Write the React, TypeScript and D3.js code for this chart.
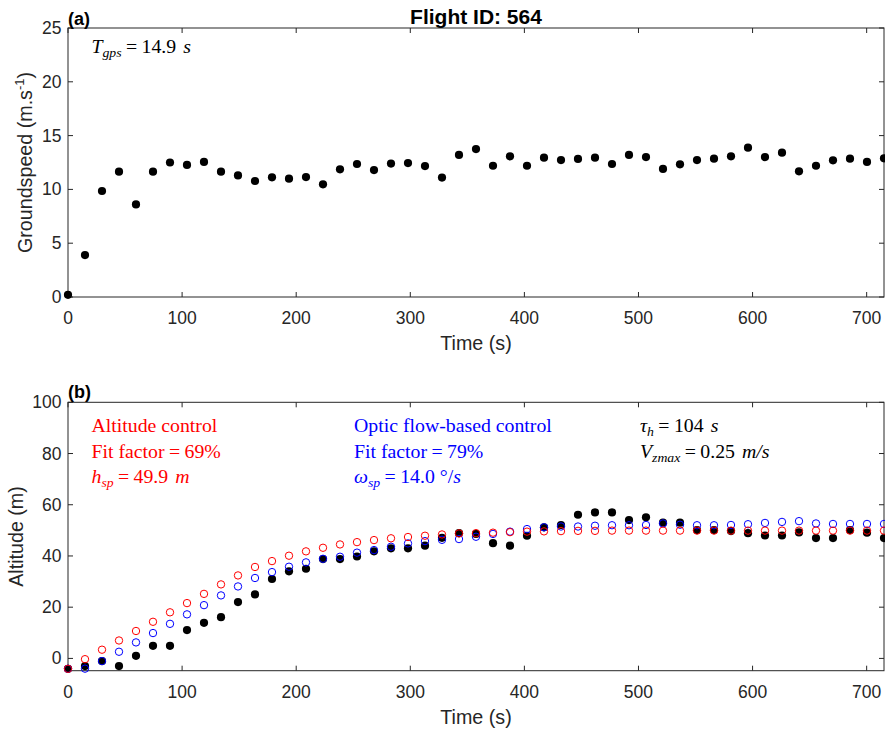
import React from "react";
import * as d3 from "d3";

const DT = 14.9;
const groundspeed = [0.2, 3.9, 9.85, 11.65, 8.6, 11.65, 12.5, 12.27, 12.55, 11.65, 11.3, 10.78, 11.12, 11.0, 11.15, 10.47, 11.87, 12.36, 11.8, 12.4, 12.45, 12.17, 11.1, 13.2, 13.75, 12.2, 13.07, 12.2, 12.95, 12.73, 12.83, 12.95, 12.36, 13.2, 13.0, 11.9, 12.33, 12.73, 12.86, 13.07, 13.88, 13.0, 13.41, 11.68, 12.2, 12.7, 12.86, 12.55, 12.89];
const altMeasured = [-4.06, -3.0, -1.05, -3.0, 1.0, 4.9, 4.9, 11.05, 13.9, 16.1, 22.0, 25.0, 31.0, 34.0, 35.0, 38.8, 38.8, 39.8, 41.8, 43.0, 43.0, 44.0, 47.1, 48.9, 48.6, 45.0, 44.0, 47.9, 51.2, 52.1, 56.1, 57.0, 57.0, 54.0, 55.1, 53.0, 53.0, 50.1, 50.1, 49.7, 48.9, 48.0, 48.0, 49.2, 47.0, 47.0, 50.1, 49.1, 47.0];
const altControl = [-4.06, -0.3, 3.4, 7.0, 10.7, 14.3, 18.0, 21.6, 25.2, 28.9, 32.4, 35.7, 38.0, 40.1, 41.8, 43.2, 44.5, 45.4, 46.2, 46.9, 47.4, 47.9, 48.4, 48.8, 48.9, 49.1, 49.3, 49.5, 49.6, 49.7, 49.8, 49.8, 49.9, 49.9, 49.9, 49.9, 49.9, 49.9, 49.9, 49.9, 49.9, 49.9, 49.9, 49.9, 49.9, 49.9, 49.9, 49.9, 49.9];
const opticControl = [-4.06, -4.0, -1.05, 2.6, 6.25, 9.9, 13.5, 17.2, 20.8, 24.6, 28.1, 31.4, 33.7, 35.8, 37.5, 38.9, 39.7, 41.3, 42.3, 43.6, 44.9, 45.8, 46.3, 46.6, 47.5, 48.6, 49.5, 50.5, 51.2, 51.5, 51.5, 51.8, 52.0, 52.0, 52.1, 52.7, 52.2, 52.0, 52.0, 52.1, 52.4, 52.9, 53.3, 53.6, 52.7, 52.5, 52.5, 52.5, 52.5];
const xTicks = [0, 100, 200, 300, 400, 500, 600, 700];
const yTicksTop = [0, 5, 10, 15, 20, 25];
const yTicksBottom = [0, 20, 40, 60, 80, 100];

const times = groundspeed.map((_, i) => i * DT);

const L = 68, R = 884;
const TOP_A = 28, BOT_A = 297;
const TOP_B = 402.3, BOT_B = 670.7;
const AXC = "#262626";
const SANS = "'Liberation Sans', Arial, sans-serif";
const SERIF = "'Liberation Serif', 'Times New Roman', serif";
const TICK_FS = 17.5;
const LABEL_FS = 19.7;
const MATH_FS = 18;
const MATH_SX = 1.1;

const x = d3.scaleLinear().domain([0, 48 * DT]).range([L, R]);
const yA = d3.scaleLinear().domain([0, 25]).range([BOT_A, TOP_A]);
const yB = d3.scaleLinear().domain([-4.8, 100]).range([BOT_B, TOP_B]);

function Axes({ y, yTicks, top, bottom }: any) {
  const tl = 5;
  return (
    <g>
      <rect x={L} y={top} width={R - L} height={bottom - top} fill="none" stroke={AXC} strokeWidth={1} />
      {xTicks.map((t) => (
        <g key={"x" + t}>
          <line x1={x(t)} x2={x(t)} y1={bottom} y2={bottom - tl} stroke={AXC} />
          <line x1={x(t)} x2={x(t)} y1={top} y2={top + tl} stroke={AXC} />
          <text x={x(t)} y={bottom + 27} textAnchor="middle" fontFamily={SANS} fontSize={TICK_FS} fill={AXC}>{t}</text>
        </g>
      ))}
      {yTicks.map((t: number) => (
        <g key={"y" + t}>
          <line x1={L} x2={L + tl} y1={y(t)} y2={y(t)} stroke={AXC} />
          <line x1={R} x2={R - tl} y1={y(t)} y2={y(t)} stroke={AXC} />
          <text x={L - 6.5} y={y(t) + 6} textAnchor="end" fontFamily={SANS} fontSize={TICK_FS} fill={AXC}>{t}</text>
        </g>
      ))}
      <text x={(L + R) / 2} y={bottom + 53} textAnchor="middle" fontFamily={SANS} fontSize={LABEL_FS} fill={AXC}>Time (s)</text>
    </g>
  );
}

function MathText({ x0, y0, fill, children }: any) {
  return (
    <text transform={`translate(${x0},${y0}) scale(${MATH_SX},1)`} fontFamily={SERIF} fontSize={MATH_FS} fill={fill} style={{ whiteSpace: "pre" }}>
      {children}
    </text>
  );
}

const Sub = ({ children }: any) => (
  <tspan fontStyle="italic" fontSize={12.5} dy={4}>{children}</tspan>
);

export default function App() {
  return (
    <svg width={885} height={735} style={{ position: "absolute", left: 0, top: 0, background: "#fff" }}>
      <rect width={885} height={735} fill="#fff" />
      {/* Panel a */}
      <Axes y={yA} yTicks={yTicksTop} top={TOP_A} bottom={BOT_A} />
      <text x={L} y={24.5} fontFamily={SANS} fontWeight="bold" fontSize={18} fill="#000">(a)</text>
      <text x={476} y={23.5} textAnchor="middle" fontFamily={SANS} fontWeight="bold" fontSize={21} fill="#000">Flight ID: 564</text>
      <text transform={`translate(31.5,${(TOP_A + BOT_A) / 2}) rotate(-90)`} textAnchor="middle" fontFamily={SANS} fontSize={LABEL_FS} fill={AXC}>
        Groundspeed (m.s<tspan dy={-8} fontSize={13}>-1</tspan><tspan dy={8}>)</tspan>
      </text>
      <MathText x0={91.5} y0={52.5} fill="#000">
        <tspan fontStyle="italic">T</tspan><Sub>gps</Sub><tspan dy={-4} dx={4}>=</tspan><tspan dx={4}>14.9 </tspan><tspan fontStyle="italic" dx={2}>s</tspan>
      </MathText>
      {groundspeed.map((v, i) => (
        <circle key={"g" + i} cx={x(times[i])} cy={yA(v)} r={4.1} fill="#000" />
      ))}

      {/* Panel b */}
      <Axes y={yB} yTicks={yTicksBottom} top={TOP_B} bottom={BOT_B} />
      <text x={L} y={398} fontFamily={SANS} fontWeight="bold" fontSize={18} fill="#000">(b)</text>
      <text transform={`translate(23,${(TOP_B + BOT_B) / 2}) rotate(-90)`} textAnchor="middle" fontFamily={SANS} fontSize={LABEL_FS} fill={AXC}>Altitude (m)</text>

      {altMeasured.map((v, i) => (
        <circle key={"m" + i} cx={x(times[i])} cy={yB(v)} r={4.1} fill="#000" />
      ))}
      {opticControl.map((v, i) => (
        <circle key={"o" + i} cx={x(times[i])} cy={yB(v)} r={3.7} fill="none" stroke="#0000ff" strokeWidth={1} />
      ))}
      {altControl.map((v, i) => (
        <circle key={"a" + i} cx={x(times[i])} cy={yB(v)} r={3.7} fill="none" stroke="#ff0000" strokeWidth={1} />
      ))}

      <MathText x0={91.5} y0={432} fill="#ff0000">Altitude control</MathText>
      <MathText x0={91.5} y0={457.5} fill="#ff0000">
        <tspan>Fit factor</tspan><tspan dx={4}>=</tspan><tspan dx={4}>69%</tspan>
      </MathText>
      <MathText x0={91.5} y0={483} fill="#ff0000">
        <tspan fontStyle="italic">h</tspan><Sub>sp</Sub><tspan dy={-4} dx={4}>=</tspan><tspan dx={4}>49.9 </tspan><tspan fontStyle="italic" dx={2}>m</tspan>
      </MathText>
      <MathText x0={354} y0={432} fill="#0000ff">Optic flow-based control</MathText>
      <MathText x0={354} y0={457.5} fill="#0000ff">
        <tspan>Fit factor</tspan><tspan dx={4}>=</tspan><tspan dx={4}>79%</tspan>
      </MathText>
      <MathText x0={354} y0={483} fill="#0000ff">
        <tspan fontStyle="italic">ω</tspan><Sub>sp</Sub><tspan dy={-4} dx={4}>=</tspan><tspan dx={4}>14.0 °/</tspan><tspan fontStyle="italic">s</tspan>
      </MathText>
      <MathText x0={640} y0={432} fill="#000">
        <tspan fontStyle="italic">τ</tspan><Sub>h</Sub><tspan dy={-4} dx={4}>=</tspan><tspan dx={4}>104 </tspan><tspan fontStyle="italic" dx={2}>s</tspan>
      </MathText>
      <MathText x0={640} y0={457.5} fill="#000">
        <tspan fontStyle="italic">V</tspan><Sub>zmax</Sub><tspan dy={-4} dx={4}>=</tspan><tspan dx={4}>0.25 </tspan><tspan fontStyle="italic" dx={2}>m/s</tspan>
      </MathText>
    </svg>
  );
}
